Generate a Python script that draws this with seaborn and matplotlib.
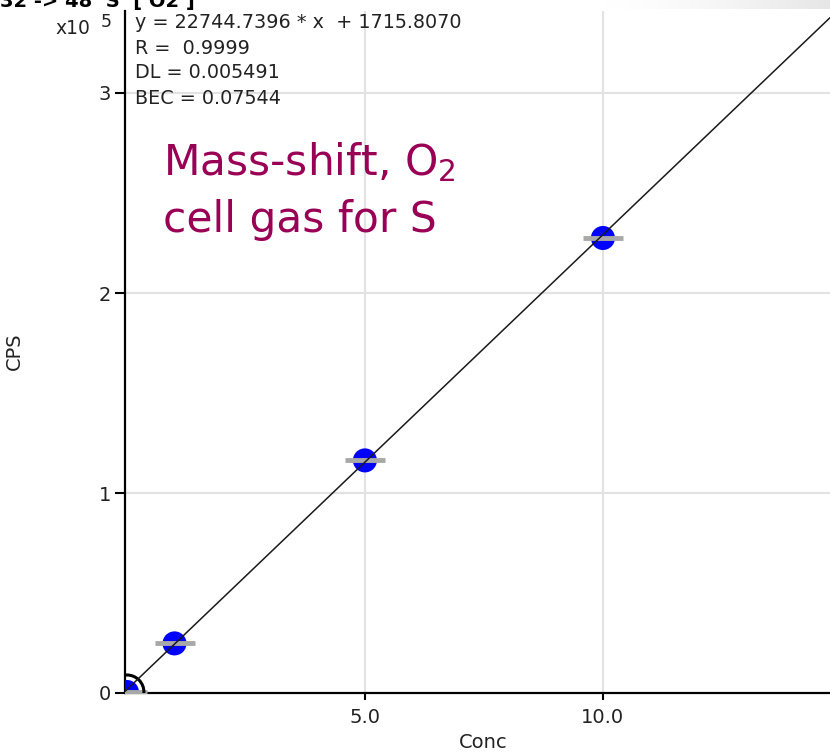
import numpy as np
import pandas as pd
import seaborn as sns
import matplotlib
matplotlib.use("Agg")
import matplotlib.pyplot as plt

# ---- data ----
conc = [0.0, 1.0, 5.0, 10.0]
cps = [500.0, 24800.0, 116300.0, 227500.0]
slope = 22744.7396
intercept = 1715.8070
stats_lines = ["y = 22744.7396 * x  + 1715.8070", "R =  0.9999", "DL = 0.005491", "BEC = 0.07544"]
y_ticks = [0, 100000, 200000, 300000]
y_tick_labels = ["0", "1", "2", "3"]
x_ticks = [5.0, 10.0]
x_tick_labels = ["5.0", "10.0"]
title_text = "32 -> 48  S  [ O2 ]"
note_text = "Mass-shift, O$_2$\ncell gas for S"

sns.set_theme(style="white")
plt.rcParams['font.family'] = ['DejaVu Sans']

W, H = 830, 755
fig = plt.figure(figsize=(W / 100, H / 100), dpi=100)
L, B, R, T = 125, 693, 830, 11
ax = fig.add_axes([L / W, 1 - B / H, (R - L) / W, (B - T) / H])

xmin, xmax = -0.04, 14.77
ymin, ymax = 0, 341000
ax.set_xlim(xmin, xmax)
ax.set_ylim(ymin, ymax)

# grid
for xv in x_ticks:
    ax.axvline(xv, color="#e2e2e2", lw=1.5, zorder=0)
for yv in y_ticks[1:]:
    ax.axhline(yv, color="#e2e2e2", lw=1.5, zorder=0)

df = pd.DataFrame({"Conc": conc, "CPS": cps})

# markers
sns.scatterplot(data=df, x="Conc", y="CPS", ax=ax, color="#0000ff", s=300,
                edgecolor="none", zorder=3, legend=False)
# grey horizontal bars
sns.scatterplot(data=df, x="Conc", y="CPS", ax=ax, marker="_", s=840,
                color="#a8a8a8", linewidth=3.5, zorder=4, legend=False)
# selected blank point highlight
ax.scatter([conc[0]], [cps[0]], s=600, facecolors="none", edgecolors="black",
           linewidths=2.2, zorder=5)

# regression line
xl = np.array([xmin, xmax])
fit = pd.DataFrame({"Conc": xl, "CPS": slope * xl + intercept})
sns.lineplot(data=fit, x="Conc", y="CPS", ax=ax, color="#1a1a1a", lw=1.1, zorder=6)

# spines
for s in ["top", "right"]:
    ax.spines[s].set_visible(False)
for s in ["left", "bottom"]:
    ax.spines[s].set_color("black")
    ax.spines[s].set_linewidth(1.6)

ax.set_xticks(x_ticks)
ax.set_xticklabels(x_tick_labels)
ax.set_yticks(y_ticks)
ax.set_yticklabels(y_tick_labels)
ax.tick_params(axis="x", direction="out", length=5, width=1.5, pad=6,
               labelsize=14, colors="black", bottom=True)
ax.tick_params(axis="y", direction="out", length=7, width=1.5, pad=3,
               labelsize=14, colors="black", left=True)
for lab in ax.get_xticklabels() + ax.get_yticklabels():
    lab.set_color("#222222")

ax.set_xlabel("Conc", fontsize=14, color="#222222")
ax.set_ylabel("CPS", fontsize=14, color="#222222")
ax.xaxis.set_label_coords((483 - L) / (R - L), -(733 - B) / (B - T))
ax.yaxis.set_label_coords(-(125 - 24) / (R - L), (B - 351) / (B - T))

# stats text
ys = [23, 48, 73, 98]
for line, yp in zip(stats_lines, ys):
    fig.text(135 / W, 1 - yp / H, line, fontsize=13.8, color="#222222",
             va="center", ha="left")

# multiplier
fig.text(55 / W, 1 - 28 / H, "x10", fontsize=13.5, color="#222222", va="center", ha="left")
fig.text(101 / W, 1 - 22 / H, "5", fontsize=12.5, color="#222222", va="center", ha="left")

# annotation
fig.text(163 / W, 1 - 162 / H, "Mass-shift, O$_2$", fontsize=30.5, color="#990055",
         va="center", ha="left")
fig.text(163 / W, 1 - 220 / H, "cell gas for S", fontsize=30.5, color="#990055",
         va="center", ha="left")

# cut-off title at top (only lower part visible, as in the reference)
fig.text(0, 1 - 7 / H, title_text, fontsize=14, fontweight="bold", color="black",
         va="baseline", ha="left")

# grey gradient band at top right
gax = fig.add_axes([600 / W, 1 - 9 / H, 230 / W, 9 / H])
grad = np.linspace(0, 1, 256)[None, :] ** 1.5
gax.imshow(grad, aspect="auto", cmap=matplotlib.colors.LinearSegmentedColormap.from_list(
    "g", ["#ffffff", "#e6e6e6"]), vmin=0, vmax=1, extent=[0, 1, 0, 1])
gax.set_axis_off()

fig.savefig("out.png", dpi=100)
